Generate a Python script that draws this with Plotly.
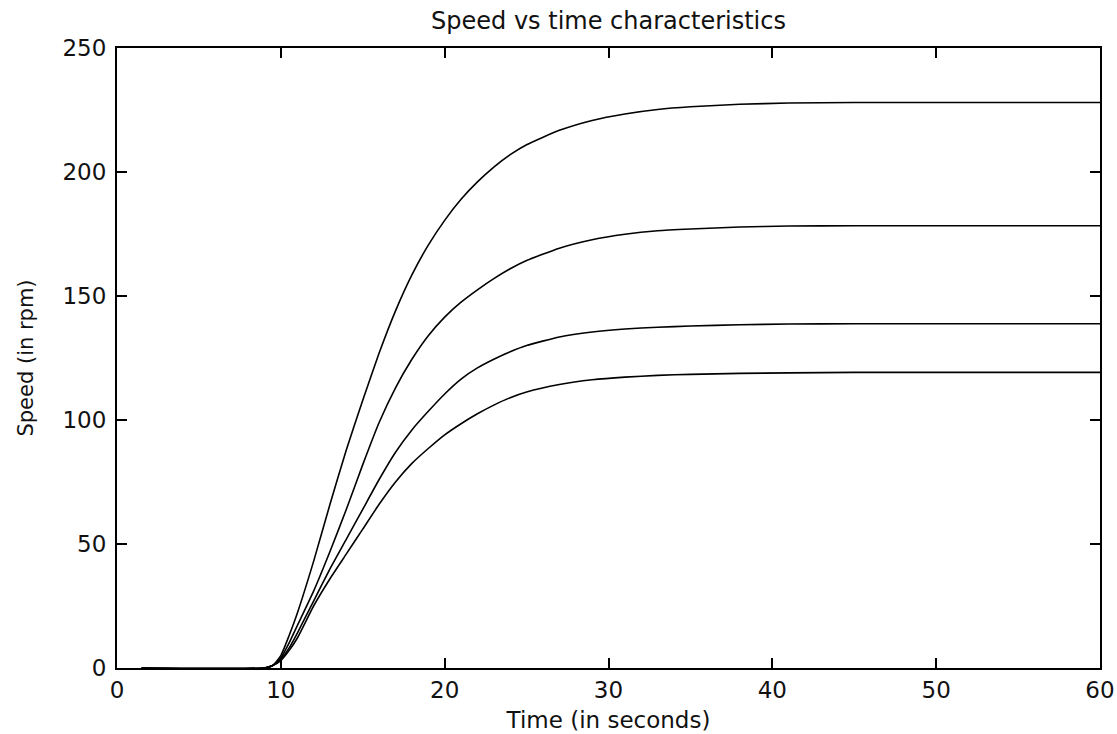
import plotly.graph_objects as go

time_s = [1.5, 9, 9.5, 10, 10.5, 11, 12, 13, 14, 15, 16, 17, 18, 19, 20, 21, 22, 23,
          24, 25, 27, 29, 31, 33, 35, 38, 41, 45, 50, 55, 60]

speed_1 = [0, 0, 1, 5, 13, 22, 43, 66, 88, 108, 127, 144, 158.5, 170.5, 180.5, 189, 196, 202,
           207, 211, 216.8, 220.8, 223.4, 225.2, 226.3, 227.3, 227.8, 228, 228, 228, 228]
speed_2 = [0, 0, 1, 4, 10, 17, 31, 47, 64, 82, 99, 113, 124.5, 134, 141.5, 147.5, 152.5, 157,
           161, 164.3, 169.3, 172.7, 174.9, 176.3, 177, 177.8, 178.2, 178.3, 178.3, 178.3, 178.3]
speed_3 = [0, 0, 1, 3.5, 8, 14, 27, 40, 52, 64, 76, 87, 96, 103.5, 110.5, 116.5, 121, 124.5,
           127.5, 130, 133.5, 135.5, 136.7, 137.4, 137.9, 138.4, 138.7, 138.8, 138.8, 138.8, 138.8]
speed_4 = [0, 0, 1, 3, 7, 12, 25, 36, 46, 56, 66, 75, 82.5, 88.5, 94, 98.5, 102.5, 106,
           109, 111.3, 114.3, 116.2, 117.3, 118, 118.4, 118.8, 119, 119.2, 119.2, 119.2, 119.2]

x_ticks = [0, 10, 20, 30, 40, 50, 60]
y_ticks = [0, 50, 100, 150, 200, 250]

FONT = "DejaVu Sans"

fig = go.Figure()
for s in [speed_1, speed_2, speed_3, speed_4]:
    fig.add_trace(go.Scatter(x=time_s, y=s, mode="lines",
                             line=dict(color="black", width=1.6, shape="spline", smoothing=0.5),
                             showlegend=False, hoverinfo="skip"))

axis_common = dict(
    showgrid=False, zeroline=False, showline=True, linecolor="black", linewidth=2,
    mirror="ticks", ticks="inside", ticklen=10, tickwidth=1.5, tickcolor="black",
    tickfont=dict(family=FONT, size=23, color="#111111"), automargin=False,
)

fig.update_layout(
    width=1117, height=734,
    margin=dict(l=117, r=17, t=48, b=66),
    paper_bgcolor="white", plot_bgcolor="white",
    title=dict(text="Speed vs time characteristics", x=0.5, xref="paper",
               y=1 - 21 / 734, yref="container", yanchor="middle", xanchor="center",
               font=dict(family=FONT, size=24, color="#111111")),
    xaxis=dict(range=[0, 60], tickvals=x_ticks, ticktext=[str(v) for v in x_ticks],
               title=dict(text="Time (in seconds)", standoff=10,
                          font=dict(family=FONT, size=23, color="#111111")),
               ticklabelstandoff=0,
               **axis_common),
    yaxis=dict(range=[0, 250], tickvals=y_ticks, ticktext=[str(v) for v in y_ticks],
               title=dict(text="Speed (in rpm)", standoff=23,
                          font=dict(family=FONT, size=21, color="#111111")),
               ticklabelstandoff=4,
               **axis_common),
)

fig.write_html("out.html")
